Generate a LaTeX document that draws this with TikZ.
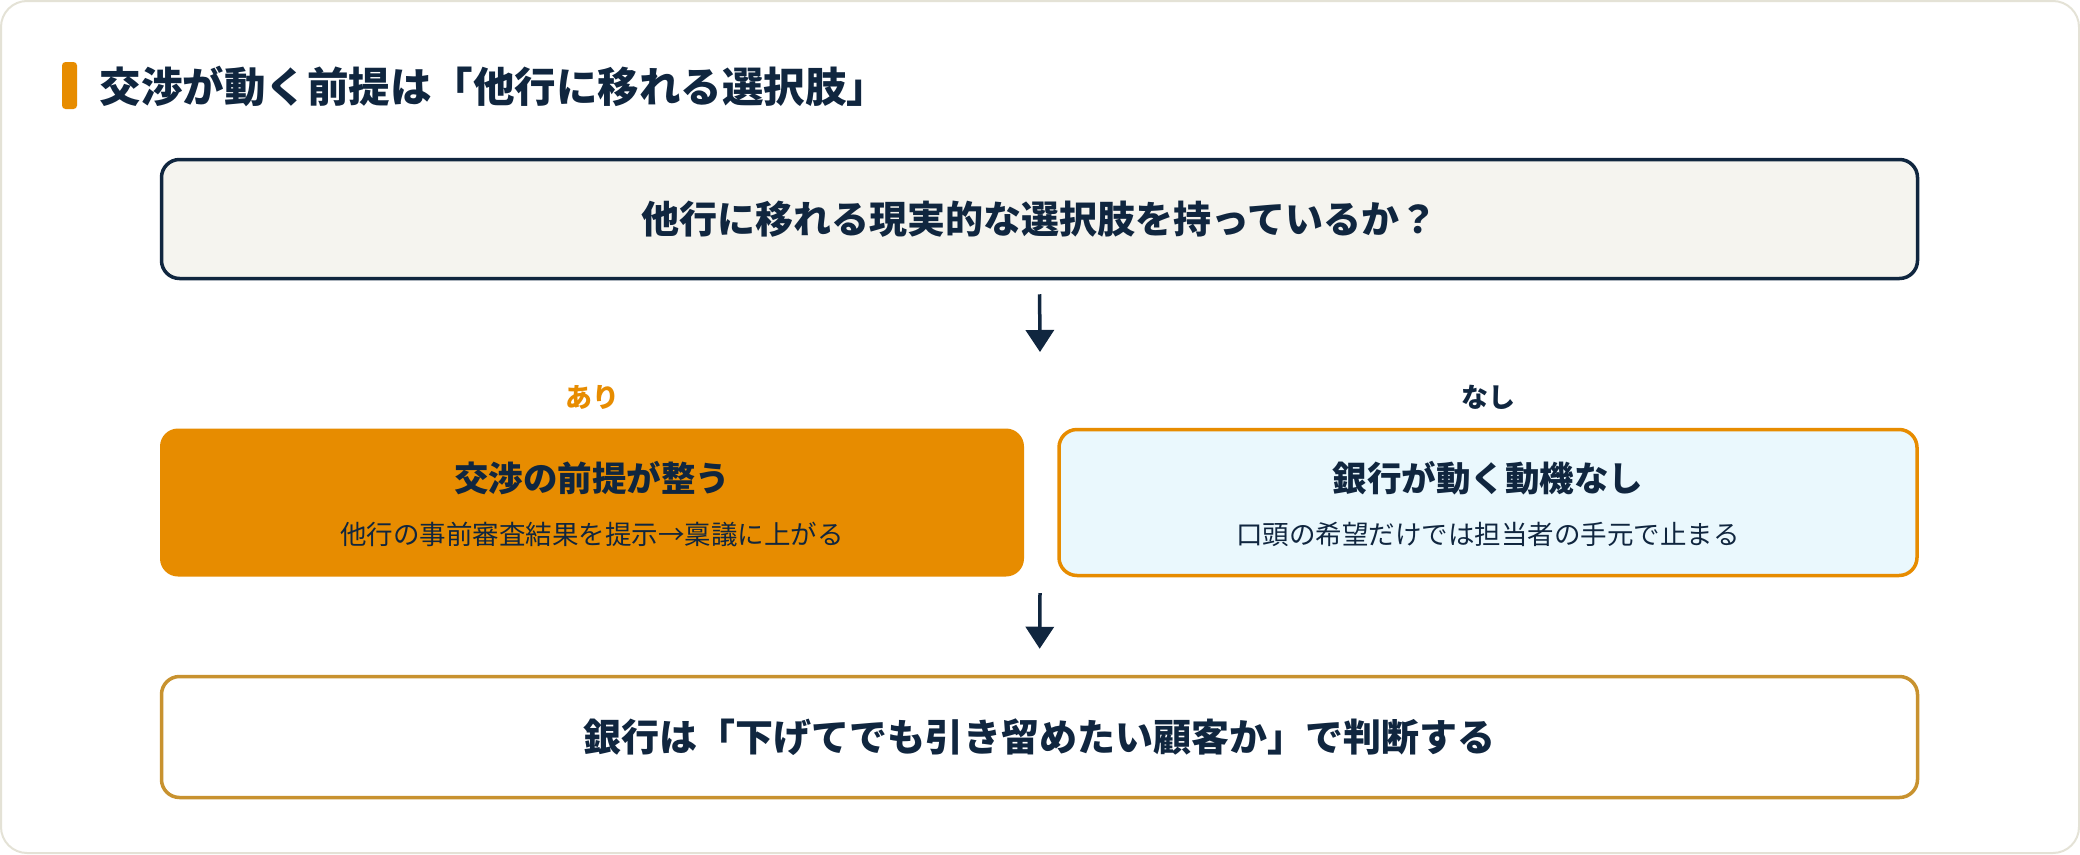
\documentclass[tikz,border=0pt]{standalone}
\usepackage{fontspec}
\setmainfont{Noto Sans CJK JP}
\usetikzlibrary{arrows.meta}
\definecolor{ink}{HTML}{10263F}
\definecolor{accent}{HTML}{E78C00}
\definecolor{gold}{HTML}{C8922F}
\definecolor{paper}{HTML}{F5F4EF}
\definecolor{mist}{HTML}{EAF8FD}
\definecolor{frame}{HTML}{E4E2D6}
\newcommand\fsz[1]{\fontsize{#1}{#1}\selectfont}
\begin{document}
\begin{tikzpicture}[x=1pt,y=-1pt,text=ink]
\tikzset{wide/.style={draw,rounded corners=18pt,line width=3.5pt,minimum width=1756pt,inner sep=0pt},
         yesbox/.style={fill=accent,rounded corners=18pt,minimum width=864pt,minimum height=148pt},
         nobox/.style={draw=accent,fill=mist,rounded corners=18pt,line width=3.5pt,minimum width=858pt,minimum height=146pt},
         arr/.style={draw=ink,line width=3.5pt,-{Triangle[length=22pt,width=28pt]}}}
\useasboundingbox (0,0) rectangle (2080,854);

% the card and its heading
\draw[draw=frame,fill=white,line width=2pt,rounded corners=26pt] (1,1) rectangle (2079,853);
\fill[accent,rounded corners=3.5pt] (62,62) rectangle (77,109);
\node[anchor=west,font=\fsz{41.5}\bfseries] (title) at (96,86) {交渉が動く前提は「他行に移れる選択肢」};

% the question
\node[wide,draw=ink,fill=paper,minimum height=119pt] (ask) at (1039.5,219)
    {\fsz{38}\bfseries 他行に移れる現実的な選択肢を持っているか？};
\coordinate (split) at (1040,352);

% the two answers: name / x / label / label colour / style / head / note
\foreach \n/\x/\lab/\col/\sty/\head/\note in {
    yes/592/あり/accent/yesbox/交渉の前提が整う/他行の事前審査結果を提示→稟議に上がる,
    no/1488/なし/ink/nobox/銀行が動く動機なし/口頭の希望だけでは担当者の手元で止まる}
{
    \node[\sty] (\n) at (\x,502.5) {};
    \node[font=\fsz{27}\bfseries,text=\col] (\n-lab) at (\x,397) {\lab};
    \node[font=\fsz{34.5}\bfseries] (\n-head) at (\x,478) {\head};
    \node[font=\fsz{26.5}] (\n-note) at (\x,534) {\note};
}

% the verdict
\coordinate (join) at (1040,593);
\node[wide,draw=gold,fill=white,minimum height=121pt] (verdict) at (1039.5,737)
    {\fsz{38}\bfseries 銀行は「下げてでも引き留めたい顧客か」で判断する};

\draw[arr,shorten <=14pt] (ask.south) -- (split);
\draw[arr,shorten >=26pt] (join) -- (verdict.north);
\end{tikzpicture}
\end{document}
